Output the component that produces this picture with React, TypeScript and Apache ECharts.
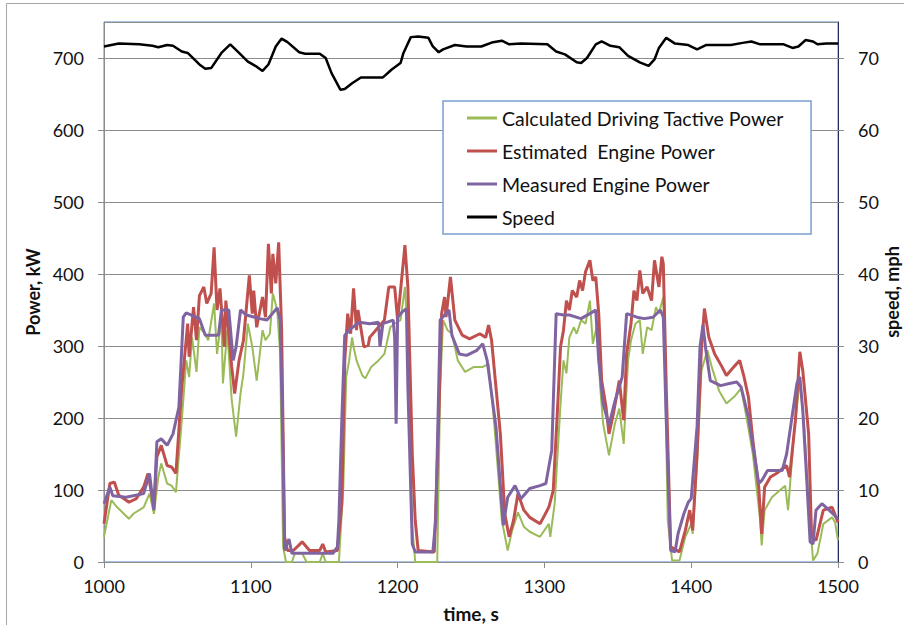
import React, { useEffect, useRef } from "react";
import * as echarts from "echarts";

const xTicks = { min: 1000, max: 1500, interval: 100 };
const powerAxis = { min: 0, max: 750, interval: 100 };
const speedAxis = { min: 0, max: 75, interval: 10 };

const seriesNames = [
  "Calculated Driving Tactive Power",
  "Estimated  Engine Power",
  "Measured Engine Power",
  "Speed",
];

const calculatedPower: [number, number][] = [
  [1000,35],[1005,86],[1009,76],[1017,60],[1020,67],[1027,76],[1031,95],[1034,67],[1037,118],[1039,137],[1043,109],[1046,106],[1049,97],[1053,197],[1056,280],[1058,257],[1060,312],[1063,264],[1065,326],[1068,319],[1071,308],[1075,359],[1077,289],[1080,340],[1081,248],[1084,322],[1087,225],[1090,174],[1093,234],[1095,262],[1098,331],[1101,299],[1104,252],[1108,322],[1110,308],[1113,317],[1115,373],[1118,350],[1120,289],[1122,21],[1124,0],[1128,0],[1130,12],[1135,12],[1138,0],[1147,0],[1149,12],[1151,0],[1160,0],[1163,104],[1165,257],[1167,280],[1169,312],[1170,299],[1172,280],[1176,259],[1178,255],[1182,271],[1187,280],[1191,289],[1195,326],[1198,331],[1202,336],[1205,382],[1207,312],[1210,49],[1212,0],[1227,0],[1229,243],[1231,336],[1234,322],[1237,317],[1241,280],[1246,264],[1252,271],[1258,271],[1262,275],[1266,188],[1271,58],[1275,16],[1278,44],[1282,69],[1286,49],[1290,42],[1297,35],[1303,53],[1304,35],[1307,81],[1311,220],[1313,280],[1315,262],[1317,312],[1320,326],[1322,317],[1325,336],[1328,331],[1331,363],[1333,303],[1336,331],[1338,243],[1340,192],[1344,148],[1348,192],[1351,213],[1354,164],[1357,280],[1359,308],[1362,331],[1365,336],[1367,289],[1370,326],[1373,322],[1376,354],[1378,345],[1381,368],[1382,299],[1384,58],[1387,2],[1392,2],[1396,35],[1400,53],[1401,39],[1404,137],[1407,266],[1411,294],[1414,271],[1419,238],[1424,220],[1430,231],[1434,241],[1438,197],[1442,150],[1447,58],[1448,23],[1450,72],[1455,90],[1460,99],[1464,106],[1466,72],[1470,178],[1473,234],[1474,252],[1477,188],[1480,81],[1483,2],[1486,12],[1490,53],[1496,62],[1498,55],[1500,30],
];

const estimatedPower: [number, number][] = [
  [1000,53],[1004,109],[1007,111],[1010,93],[1017,83],[1022,88],[1027,104],[1030,123],[1034,76],[1036,146],[1039,162],[1043,134],[1046,132],[1049,123],[1053,243],[1057,331],[1058,285],[1061,354],[1063,308],[1065,370],[1068,382],[1070,359],[1073,373],[1075,437],[1077,350],[1079,380],[1082,299],[1083,363],[1087,271],[1089,234],[1092,280],[1095,308],[1099,398],[1101,345],[1102,377],[1104,326],[1108,368],[1110,340],[1112,442],[1114,373],[1115,428],[1117,387],[1119,444],[1121,322],[1123,35],[1125,16],[1129,16],[1135,28],[1140,16],[1147,16],[1149,25],[1151,14],[1159,16],[1162,81],[1164,280],[1166,345],[1168,317],[1170,380],[1172,322],[1173,350],[1177,299],[1180,301],[1181,312],[1186,324],[1189,331],[1191,336],[1194,382],[1198,382],[1200,336],[1202,377],[1205,440],[1207,382],[1210,150],[1212,58],[1214,16],[1225,14],[1228,197],[1230,345],[1232,368],[1233,340],[1236,396],[1239,336],[1244,315],[1249,310],[1256,317],[1260,312],[1262,329],[1264,308],[1270,178],[1273,67],[1276,35],[1279,58],[1282,95],[1286,72],[1290,62],[1297,53],[1303,76],[1306,99],[1309,215],[1311,299],[1313,322],[1315,363],[1317,350],[1319,377],[1322,368],[1324,391],[1326,377],[1328,403],[1331,419],[1333,391],[1335,396],[1337,345],[1339,252],[1342,215],[1344,178],[1347,206],[1351,252],[1354,197],[1356,289],[1359,331],[1361,377],[1363,363],[1365,405],[1367,373],[1370,382],[1373,363],[1375,419],[1378,382],[1380,424],[1381,414],[1383,243],[1386,21],[1392,14],[1396,44],[1399,72],[1401,44],[1404,150],[1407,299],[1409,352],[1412,312],[1416,289],[1421,271],[1424,259],[1429,271],[1433,280],[1436,257],[1439,229],[1442,169],[1446,104],[1448,39],[1450,104],[1454,118],[1458,123],[1465,134],[1467,118],[1471,197],[1474,292],[1476,266],[1480,178],[1482,35],[1485,30],[1490,72],[1496,76],[1500,55],
];

const measuredPower: [number, number][] = [
  [1000,81],[1004,104],[1006,92],[1015,90],[1027,95],[1031,123],[1034,72],[1036,167],[1039,171],[1043,162],[1047,178],[1051,215],[1054,340],[1056,346],[1065,338],[1069,315],[1078,315],[1080,350],[1085,350],[1088,280],[1090,299],[1093,350],[1097,343],[1106,338],[1111,336],[1118,353],[1120,336],[1122,150],[1123,16],[1126,32],[1128,12],[1156,12],[1159,21],[1160,58],[1162,197],[1164,315],[1168,324],[1174,333],[1181,331],[1187,333],[1188,299],[1190,331],[1197,336],[1198,312],[1199,192],[1200,340],[1203,347],[1206,352],[1207,243],[1210,25],[1212,14],[1224,14],[1226,58],[1229,336],[1235,350],[1237,315],[1242,289],[1247,287],[1254,294],[1258,303],[1261,280],[1267,188],[1272,51],[1275,90],[1280,106],[1284,88],[1290,102],[1297,106],[1301,109],[1305,155],[1308,345],[1313,343],[1317,343],[1325,338],[1331,345],[1335,350],[1337,280],[1340,220],[1344,190],[1348,223],[1353,257],[1356,345],[1363,340],[1368,338],[1374,340],[1379,350],[1381,340],[1383,197],[1386,16],[1389,14],[1391,39],[1395,67],[1398,83],[1400,88],[1404,188],[1406,299],[1408,329],[1410,294],[1413,252],[1420,245],[1426,248],[1431,250],[1434,243],[1439,201],[1446,109],[1448,113],[1452,127],[1462,127],[1465,150],[1468,192],[1472,248],[1474,257],[1476,211],[1479,104],[1481,28],[1483,25],[1485,72],[1489,81],[1494,72],[1500,60],
];

const speed: [number, number][] = [
  [1000,71.6],[1010,72.0],[1024,71.9],[1033,71.7],[1037,71.5],[1043,71.8],[1047,71.7],[1053,70.9],[1057,70.7],[1065,69.1],[1069,68.5],[1073,68.6],[1080,70.7],[1086,71.9],[1092,70.7],[1098,69.5],[1104,68.8],[1108,68.2],[1112,69.1],[1117,71.6],[1121,72.7],[1125,72.2],[1133,70.8],[1137,70.6],[1147,70.6],[1151,70.0],[1155,67.9],[1161,65.6],[1164,65.7],[1169,66.5],[1175,67.3],[1190,67.3],[1196,68.4],[1202,69.3],[1204,70.7],[1209,72.9],[1214,73.0],[1221,72.8],[1224,71.6],[1228,70.8],[1231,71.2],[1239,71.8],[1247,71.6],[1257,71.6],[1265,72.2],[1271,72.4],[1276,71.9],[1284,72.0],[1302,71.9],[1308,70.9],[1314,70.5],[1322,69.4],[1325,69.3],[1329,70.0],[1335,71.9],[1339,72.3],[1345,71.7],[1351,71.5],[1357,70.3],[1365,69.4],[1371,68.9],[1375,69.8],[1378,71.4],[1383,72.8],[1389,72.0],[1398,71.8],[1404,71.2],[1410,71.8],[1427,71.8],[1435,72.1],[1441,72.3],[1447,71.9],[1463,71.9],[1469,71.4],[1473,71.6],[1478,72.5],[1483,72.3],[1486,71.9],[1492,72.0],[1500,72.0],
];

const FONT = "Lato, 'Noto Sans', sans-serif";

export default function App() {
  const ref = useRef<HTMLDivElement>(null);
  useEffect(() => {
    document.body.style.margin = "0";
    document.body.style.overflow = "hidden";
    document.documentElement.style.overflow = "hidden";
    if (!ref.current) return;
    const chart = echarts.init(ref.current, undefined, { renderer: "svg" });
    const axisLabel = { color: "#111", fontSize: 18, fontFamily: FONT };
    const nameStyle = { color: "#111", fontSize: 18, fontWeight: "bold" as const, fontFamily: FONT };
    const lineGray = { color: "#8c8c8c", width: 1 };
    chart.setOption({
      animation: false,
      backgroundColor: "#fff",
      textStyle: { fontFamily: FONT },
      graphic: [
        {
          type: "line",
          shape: { x1: 6.5, y1: 3.5, x2: 904, y2: 3.5 },
          style: { stroke: "#a6a6a6", lineWidth: 1 },
          silent: true,
        },
        {
          type: "line",
          shape: { x1: 6.5, y1: 3.5, x2: 6.5, y2: 625 },
          style: { stroke: "#a6a6a6", lineWidth: 1 },
          silent: true,
        },
      ],
      grid: {
        left: 104,
        right: 66,
        top: 22,
        bottom: 63,
        containLabel: false,
        outerBoundsMode: "none",
        show: true,
        borderColor: "#5b8bc9",
        borderWidth: 1,
      },
      legend: {
        data: seriesNames,
        orient: "vertical",
        left: 443,
        top: 101,
        padding: [7, 27, 7, 24],
        itemGap: 13,
        itemWidth: 30,
        itemHeight: 3,
        icon: "rect",
        backgroundColor: "#fff",
        borderColor: "#7aa0d0",
        borderWidth: 1.5,
        textStyle: { color: "#111", fontSize: 19.5, lineHeight: 20, fontFamily: FONT },
      },
      xAxis: {
        type: "value",
        min: xTicks.min,
        max: xTicks.max,
        interval: xTicks.interval,
        name: "time, s",
        nameLocation: "middle",
        nameGap: 42,
        nameTextStyle: { ...nameStyle, fontSize: 19, lineHeight: 19 },
        axisLine: { lineStyle: lineGray },
        axisTick: { show: true, inside: false, length: 6, lineStyle: lineGray },
        axisLabel: { ...axisLabel, margin: 15, formatter: (v: number) => String(v) },
        splitLine: { show: false },
      },
      yAxis: [
        {
          type: "value",
          min: powerAxis.min,
          max: powerAxis.max,
          interval: powerAxis.interval,
          name: "Power, kW",
          nameLocation: "middle",
          nameRotate: 90,
          nameGap: 58,
          nameTextStyle: nameStyle,
          axisLine: { show: true, lineStyle: lineGray },
          axisTick: { show: true, inside: false, length: 6, lineStyle: lineGray },
          axisLabel: { ...axisLabel, margin: 20, showMaxLabel: false, formatter: (v: number) => String(v) },
          splitLine: { show: true, lineStyle: lineGray },
        },
        {
          type: "value",
          position: "right",
          min: speedAxis.min,
          max: speedAxis.max,
          interval: speedAxis.interval,
          name: "speed, mph",
          nameLocation: "middle",
          nameRotate: 90,
          nameGap: 45,
          nameMoveOverlap: false,
          nameTextStyle: { ...nameStyle, lineHeight: 18 },
          axisLine: { show: true, lineStyle: { color: "#1f2f5a", width: 1 } },
          axisTick: { show: true, inside: false, length: 6, lineStyle: lineGray },
          axisLabel: { ...axisLabel, margin: 20, showMaxLabel: false, formatter: (v: number) => String(v) },
          splitLine: { show: false },
        },
      ],
      series: [
        {
          name: seriesNames[0],
          type: "line",
          data: calculatedPower,
          showSymbol: false,
          symbol: "none",
          color: "#9bbb59",
          lineStyle: { width: 2, color: "#9bbb59" },
          z: 2,
        },
        {
          name: seriesNames[1],
          type: "line",
          data: estimatedPower,
          showSymbol: false,
          symbol: "none",
          color: "#c0504d",
          lineStyle: { width: 3, color: "#c0504d" },
          z: 3,
        },
        {
          name: seriesNames[2],
          type: "line",
          data: measuredPower,
          showSymbol: false,
          symbol: "none",
          color: "#8064a2",
          lineStyle: { width: 3, color: "#8064a2" },
          z: 4,
        },
        {
          name: seriesNames[3],
          type: "line",
          yAxisIndex: 1,
          data: speed,
          showSymbol: false,
          symbol: "none",
          color: "#000",
          lineStyle: { width: 2.5, color: "#000" },
          z: 5,
        },
      ],
    });
    return () => chart.dispose();
  }, []);
  return (
    <div
      ref={ref}
      style={{ position: "absolute", left: 0, top: 0, width: 904, height: 625, background: "#fff" }}
    />
  );
}
